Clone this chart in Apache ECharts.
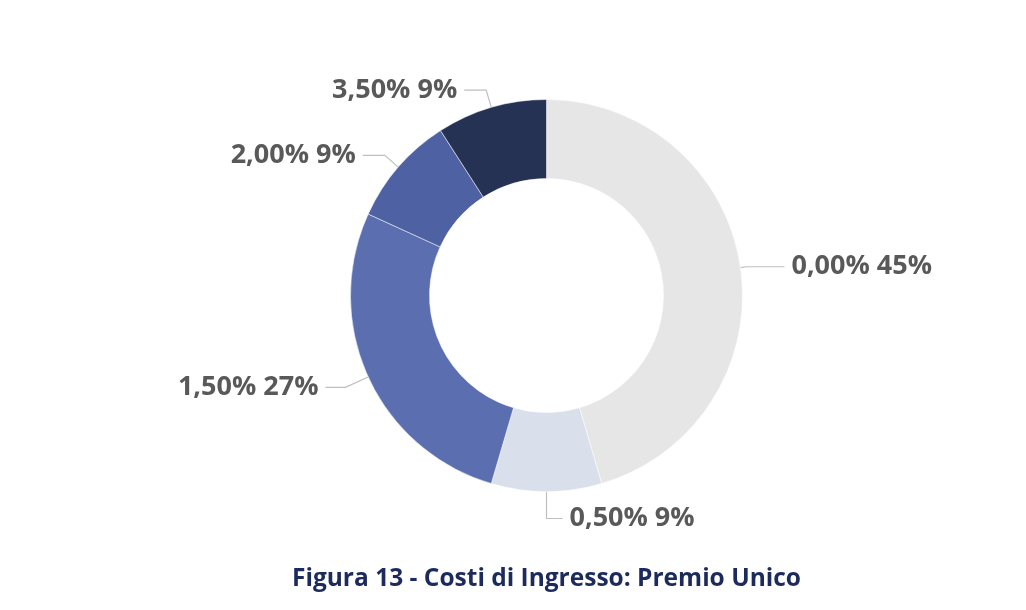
<!DOCTYPE html>
<html>
<head>
<meta charset="utf-8">
<script src="https://cdn.jsdelivr.net/npm/echarts@6/dist/echarts.min.js"></script>
<style>
html,body{margin:0;padding:0;background:#fff;}
#c{width:1026px;height:610px;}
</style>
</head>
<body>
<div id="c"></div>
<script>
const categories = ["0,00%", "0,50%", "1,50%", "2,00%", "3,50%"];
const values = [5, 1, 3, 1, 1];
const colors = ["#e6e6e6", "#dadfec", "#5a6eb0", "#4e61a3", "#263253"];
const lineLengths = [[6, 38], [27, 16], [25, 20], [18, 22], [18, 22]];
const titleText = "Figura 13 - Costi di Ingresso: Premio Unico";

const total = values.reduce((a, b) => a + b, 0);
const chart = echarts.init(document.getElementById('c'));
chart.setOption({
  backgroundColor: '#ffffff',
  animation: false,
  title: {
    text: titleText,
    left: 287,
    top: 562,
    textStyle: {fontFamily: 'Open Sans', fontWeight: 'bold', fontSize: 24.5, color: '#1c2a5e'}
  },
  series: [{
    type: 'pie',
    center: [546.5, 295.5],
    radius: [117, 196],
    startAngle: 90,
    clockwise: true,
    itemStyle: {borderColor: '#ffffff', borderWidth: 0.5},
    label: {
      show: true,
      position: 'outside',
      fontFamily: 'Open Sans',
      fontWeight: 'bold',
      fontSize: 27,
      color: '#595959',
      distanceToLabelLine: 7,
      formatter: p => p.name + ' ' + Math.round(p.value / total * 100) + '%'
    },
    labelLine: {show: true, lineStyle: {color: '#bfbfbf', width: 1.2}},
    emphasis: {disabled: true},
    data: categories.map((c, i) => ({
      name: c,
      value: values[i],
      itemStyle: {color: colors[i]},
      labelLine: {length: lineLengths[i][0], length2: lineLengths[i][1]}
    }))
  }]
});
</script>
</body>
</html>
